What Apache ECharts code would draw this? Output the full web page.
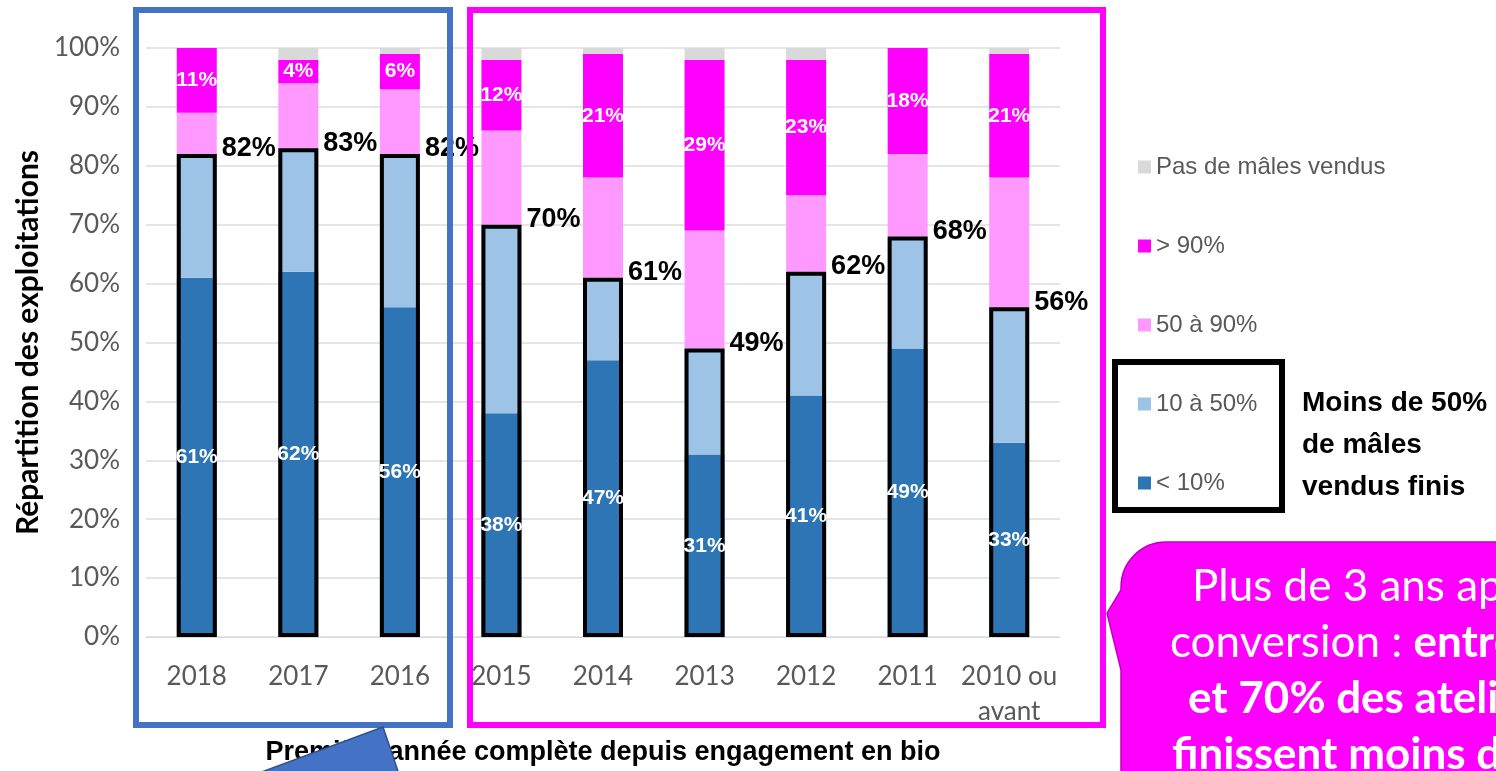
<!DOCTYPE html>
<html>
<head>
<meta charset="utf-8">
<title>Mâles vendus finis</title>
<script src="https://cdn.jsdelivr.net/npm/echarts@6.0.0/dist/echarts.min.js"></script>
<style>
body { margin: 0; background: #fff; }
#chart { width: 1496px; height: 771px; }
</style>
</head>
<body>
<div id="chart"></div>
<script>
// données (% des exploitations)
var categories = ['2018', '2017', '2016', '2015', '2014', '2013', '2012', '2011', '2010 ou avant'];
var lessThan10 = [61, 62, 56, 38, 47, 31, 41, 49, 33];
var from10to50 = [21, 21, 26, 32, 14, 18, 21, 19, 23];
var from50to90 = [7, 11, 11, 16, 17, 20, 13, 14, 22];
var moreThan90 = [11, 4, 6, 12, 21, 29, 23, 18, 21];
var noMales = [0, 2, 1, 2, 1, 2, 2, 0, 1];
var yTicks = [0, 10, 20, 30, 40, 50, 60, 70, 80, 90, 100];

var seriesNames = ['< 10%', '10 à 50%', '50 à 90%', '> 90%', 'Pas de mâles vendus'];
var colors = ['#2E75B6', '#9DC3E6', '#FF99FF', '#FF00FF', '#D9D9D9'];

initChart('chart');

/* somme des deux premières classes : moins de 50% de mâles vendus finis */
function sumLow() {
	var sums = new Array();
	for (var i = 0; i < categories.length; i++) {
		sums[i] = lessThan10[i] + from10to50[i];
	}
	return sums;
}

function pct(p) {
	return Math.round(p.value) + '%';
}

function stackSeries(name, data, color, withLabel) {
	return {
		name : name,
		type : 'bar',
		stack : 'total',
		barWidth : 40,
		barGap : '-100%',
		data : data,
		itemStyle : { color : color },
		label : {
			show : withLabel,
			position : 'inside',
			formatter : pct,
			overflow : 'none',
			color : '#fff',
			fontFamily : '"Liberation Sans", Arial, sans-serif',
			fontWeight : 'bold',
			fontSize : 21
		}
	};
}

function initChart(id) {
	var myChart = echarts.init(document.getElementById(id));
	var option = {
		animation : false,
		textStyle : { fontFamily : 'Lato, sans-serif' },
		legend : {
			data : ['Pas de mâles vendus', '> 90%', '50 à 90%', '10 à 50%', '< 10%'],
			orient : 'vertical',
			left : 1133,
			top : 148,
			itemWidth : 13,
			itemHeight : 13,
			itemGap : 51,
			icon : 'rect',
			selectedMode : false,
			textStyle : {
				color : '#595959',
				fontFamily : '"Liberation Sans", Arial, sans-serif',
				fontSize : 24,
				lineHeight : 28
			}
		},
		grid : {
			left : 146,
			right : 436,
			top : 48,
			bottom : 133
		},
		xAxis : {
			type : 'category',
			data : categories,
			name : 'Première année complète depuis engagement en bio',
			nameLocation : 'middle',
			nameGap : 102,
			nameTextStyle : {
				color : '#000',
				fontFamily : '"Liberation Sans", Arial, sans-serif',
				fontWeight : 'bold',
				fontSize : 27
			},
			axisLine : { lineStyle : { color : '#D9D9D9', width : 1 } },
			axisTick : { show : false },
			axisLabel : {
				interval : 0,
				color : '#595959',
				fontSize : 26,
				margin : 22,
				lineHeight : 35,
				formatter : function(v) {
					return v.replace(' ou ', ' ou\n');
				}
			}
		},
		yAxis : {
			type : 'value',
			min : yTicks[0],
			max : yTicks[yTicks.length - 1],
			interval : yTicks[1] - yTicks[0],
			name : 'Répartition des exploitations',
			nameLocation : 'middle',
			nameGap : 98,
			nameTextStyle : {
				color : '#000',
				fontWeight : 'bold',
				fontSize : 30
			},
			axisLine : { show : false },
			axisTick : { show : false },
			splitLine : { lineStyle : { color : '#DDDDDD', width : 1.5 } },
			axisLabel : {
				color : '#595959',
				fontSize : 26,
				margin : 26,
				formatter : '{value}%'
			}
		},
		series : [
			stackSeries(seriesNames[0], lessThan10, colors[0], true),
			stackSeries(seriesNames[1], from10to50, colors[1], false),
			stackSeries(seriesNames[2], from50to90, colors[2], false),
			stackSeries(seriesNames[3], moreThan90, colors[3], true),
			stackSeries(seriesNames[4], noMales, colors[4], false),
			{
				// cadre noir autour des deux classes du bas
				name : 'Moins de 50%',
				type : 'bar',
				barWidth : 40,
				barGap : '-100%',
				data : sumLow(),
				itemStyle : {
					color : 'rgba(0,0,0,0)',
					borderColor : '#000',
					borderWidth : 4
				},
				label : {
					show : true,
					position : ['100%', 0],
					offset : [5, -5],
					align : 'left',
					verticalAlign : 'middle',
					formatter : pct,
					color : '#000',
					fontFamily : '"Liberation Sans", Arial, sans-serif',
					fontWeight : 'bold',
					fontSize : 27
				}
			}
		],
		graphic : [
			// cadres bleu et magenta
			{
				type : 'rect', z : 100,
				shape : { x : 136, y : 10, width : 314, height : 715 },
				style : { fill : 'none', stroke : '#4472C4', lineWidth : 6 }
			},
			{
				type : 'rect', z : 100,
				shape : { x : 470, y : 10, width : 633, height : 715 },
				style : { fill : 'none', stroke : '#FF00FF', lineWidth : 6 }
			},
			// cadre de la légende
			{
				type : 'rect', z : 100,
				shape : { x : 1115, y : 362, width : 167, height : 148 },
				style : { fill : 'none', stroke : '#000', lineWidth : 6 }
			},
			{
				type : 'text', z : 100,
				style : {
					x : 1302, y : 445,
					text : 'Moins de 50%\nde mâles\nvendus finis',
					fill : '#000',
					font : 'bold 28px "Liberation Sans", Arial, sans-serif',
					lineHeight : 42,
					verticalAlign : 'middle'
				}
			},
			// flèche bleue
			{
				type : 'polygon', z : 100,
				shape : { points : [[383, 727], [401, 780], [240, 780]] },
				style : { fill : '#4472C4', stroke : '#2F528F', lineWidth : 1.5 }
			},
			// bulle magenta
			{
				type : 'rect', z : 100,
				shape : { x : 1121, y : 542, width : 420, height : 260, r : [45, 0, 0, 0] },
				style : { fill : '#FF00FF', stroke : '#C000C0', lineWidth : 1.5 }
			},
			{
				type : 'polygon', z : 101,
				shape : { points : [[1121, 590], [1107, 613], [1121, 670], [1124, 670], [1124, 590]] },
				style : { fill : '#FF00FF' }
			},
			{
				type : 'polyline', z : 101,
				shape : { points : [[1121, 590], [1107, 613], [1121, 670]] },
				style : { fill : null, stroke : '#C000C0', lineWidth : 1.5 }
			},
			{
				type : 'text', z : 102,
				style : {
					x : 1192, y : 587, verticalAlign : 'middle',
					text : 'Plus de 3 ans après',
					fill : '#fff', font : '44px Lato, sans-serif'
				}
			},
			{
				type : 'text', z : 102,
				style : {
					x : 1170, y : 643, verticalAlign : 'middle',
					text : '{n|conversion : }{b|entre 50}',
					fill : '#fff',
					rich : {
						n : { fill : '#fff', fontFamily : 'Lato', fontSize : 44 },
						b : { fill : '#fff', fontFamily : 'Lato', fontSize : 44, fontWeight : 'bold' }
					}
				}
			},
			{
				type : 'text', z : 102,
				style : {
					x : 1188, y : 699, verticalAlign : 'middle',
					text : 'et 70% des ateliers',
					fill : '#fff', font : 'bold 44px Lato, sans-serif'
				}
			},
			{
				type : 'text', z : 102,
				style : {
					x : 1172, y : 755, verticalAlign : 'middle',
					text : 'finissent moins de 50%',
					fill : '#fff', font : 'bold 44px Lato, sans-serif'
				}
			}
		]
	};
	myChart.setOption(option);
}
</script>
</body>
</html>
